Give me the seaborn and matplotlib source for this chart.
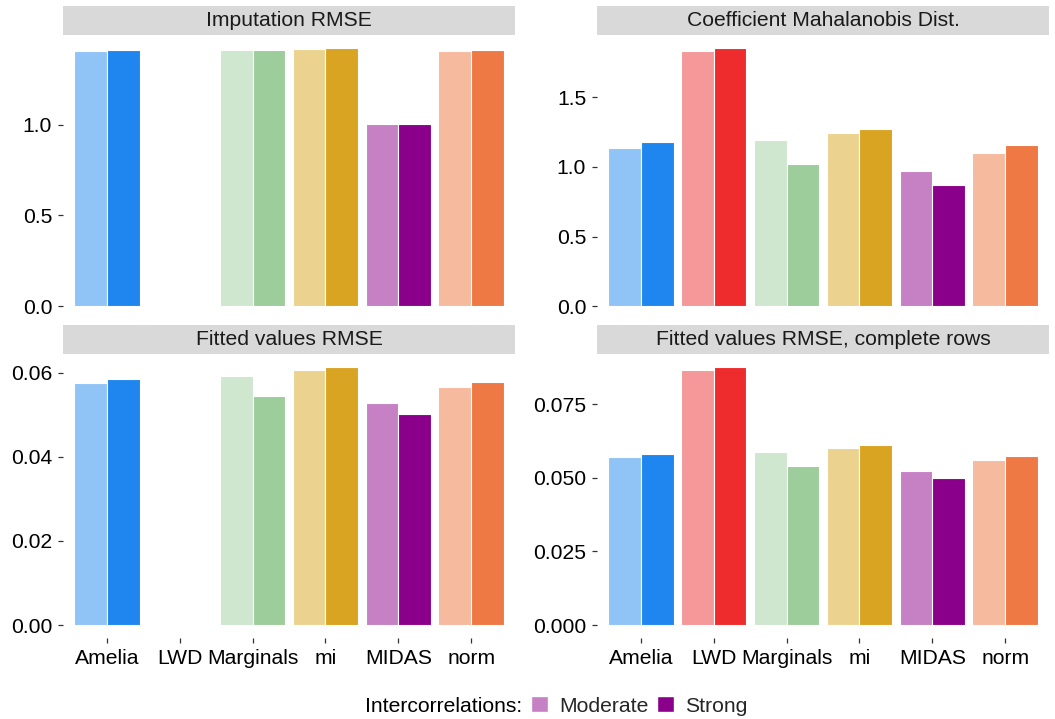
import matplotlib
matplotlib.use("Agg")
import matplotlib.pyplot as plt
from matplotlib.patches import Rectangle, Patch
from matplotlib.ticker import MultipleLocator, FormatStrFormatter
import numpy as np
import pandas as pd
import seaborn as sns

# ---------------- data ----------------
methods = ["Amelia", "LWD", "Marginals", "mi", "MIDAS", "norm"]
levels = ["Moderate", "Strong"]
panel_titles = ["Imputation RMSE", "Coefficient Mahalanobis Dist.",
                "Fitted values RMSE", "Fitted values RMSE, complete rows"]

imp_rmse_moderate = [1.406, np.nan, 1.413, 1.417, 1.002, 1.406]
imp_rmse_strong   = [1.410, np.nan, 1.413, 1.422, 1.005, 1.411]

mahal_moderate = [1.135, 1.837, 1.197, 1.243, 0.969, 1.103]
mahal_strong   = [1.178, 1.856, 1.022, 1.276, 0.873, 1.156]

fit_rmse_moderate = [0.0575, np.nan, 0.0592, 0.0606, 0.0527, 0.0567]
fit_rmse_strong   = [0.0586, np.nan, 0.0544, 0.0614, 0.0503, 0.0579]

fit_cc_moderate = [0.0569, 0.0864, 0.0588, 0.0601, 0.0523, 0.0561]
fit_cc_strong   = [0.0580, 0.0876, 0.0540, 0.0610, 0.0500, 0.0575]

color_moderate = ["#90C3F6", "#F59899", "#CFE6CF", "#EBD38F", "#C680C4", "#F6BA9F"]
color_strong   = ["#1E86EE", "#EE2B2D", "#9DCD9A", "#D9A421", "#8B008B", "#EE7945"]

y_steps = [0.5, 0.5, 0.02, 0.025]
y_formats = ["%.1f", "%.1f", "%.2f", "%.3f"]

series = [
    (imp_rmse_moderate, imp_rmse_strong),
    (mahal_moderate, mahal_strong),
    (fit_rmse_moderate, fit_rmse_strong),
    (fit_cc_moderate, fit_cc_strong),
]

# ---------------- styling ----------------
sns.set_style("white")
plt.rcParams["font.family"] = ["Liberation Sans", "DejaVu Sans"]
FS = 15.2

W, H = 1055, 719
fig = plt.figure(figsize=(W / 100, H / 100), dpi=100)

lefts = [63, 597, 63, 597]
bottoms = [319, 319, 638, 638]
pw, ph = 452, 284
strip_h = 29

for i, (mod, strong) in enumerate(series):
    ax = fig.add_axes([lefts[i] / W, 1 - bottoms[i] / H, pw / W, ph / H])
    df = pd.DataFrame({
        "method": methods * 2,
        "level": [levels[0]] * len(methods) + [levels[1]] * len(methods),
        "value": list(mod) + list(strong),
    })
    sns.barplot(data=df, x="method", y="value", hue="level",
                order=methods, hue_order=levels,
                palette=[color_moderate[4], color_strong[4]],
                width=0.9, errorbar=None, legend=False,
                edgecolor="white", linewidth=0.8, ax=ax)
    # recolor bars per method
    for bar in ax.patches:
        h = bar.get_height()
        if h is None or not np.isfinite(h):
            continue
        c = bar.get_x() + bar.get_width() / 2
        idx = int(round(c))
        if c - idx < 0:
            bar.set_facecolor(color_moderate[idx])
        else:
            bar.set_facecolor(color_strong[idx])

    vals = np.array(list(mod) + list(strong), dtype=float)
    m = np.nanmax(vals)
    ax.set_ylim(-0.05 * m, 1.05 * m)
    ax.set_xlim(-0.6, len(methods) - 0.4)
    ax.yaxis.set_major_locator(MultipleLocator(y_steps[i]))
    ax.yaxis.set_major_formatter(FormatStrFormatter(y_formats[i]))
    ax.set_xlabel("")
    ax.set_ylabel("")
    for s in ax.spines.values():
        s.set_visible(False)
    ax.tick_params(axis="both", length=3.8, width=0.9, color="#333333",
                   pad=4, labelsize=FS, labelcolor="black")
    ax.tick_params(axis="y", left=True)
    if i < 2:
        ax.tick_params(axis="x", bottom=False, labelbottom=False)
    else:
        ax.tick_params(axis="x", bottom=True, labelbottom=True)
    ax.grid(False)
    ax.set_facecolor("white")

    # strip
    ax.add_patch(Rectangle((0, 1), 1, strip_h / ph, transform=ax.transAxes,
                           clip_on=False, facecolor="#D9D9D9", edgecolor="none"))
    ax.text(0.5, 1 + strip_h / ph / 2, panel_titles[i], transform=ax.transAxes,
            ha="center", va="center", fontsize=FS, color="#1A1A1A")

# legend
fig.text(365 / W, 1 - 706 / H, "Intercorrelations:", ha="left", va="center",
         fontsize=FS, color="black")
handles = [Patch(facecolor=color_moderate[4], edgecolor="white"),
           Patch(facecolor=color_strong[4], edgecolor="white")]
fig.legend(handles, levels, ncol=2, loc="center left",
           bbox_to_anchor=(531 / W, 1 - 706 / H), frameon=False,
           fontsize=FS, handlelength=0.8, handleheight=0.8,
           handletextpad=0.55, columnspacing=0.38, borderpad=0,
           borderaxespad=0)

fig.savefig("out.png", dpi=100, facecolor="white")
